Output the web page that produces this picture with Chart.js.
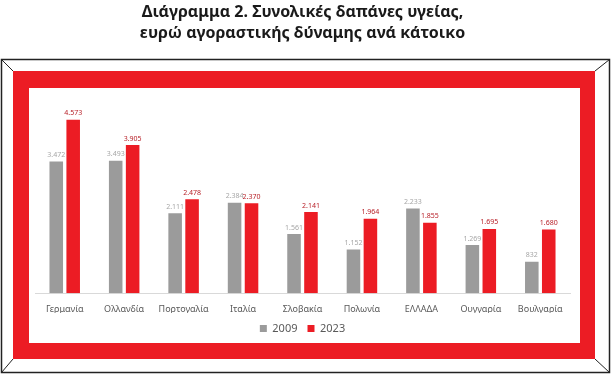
<!DOCTYPE html>
<html>
<head>
<meta charset="utf-8">
<script src="https://cdn.jsdelivr.net/npm/chart.js@4"></script>
<style>
  html, body { margin: 0; padding: 0; background: #fff; }
  #wrap { width: 612px; height: 377px; }
</style>
</head>
<body>
<div id="wrap"><canvas id="bar_chart" width="612" height="377"></canvas></div>
<script>
const countries = ['Γερμανία', 'Ολλανδία', 'Πορτογαλία', 'Ιταλία', 'Σλοβακία', 'Πολωνία', 'ΕΛΛΑΔΑ', 'Ουγγαρία', 'Βουλγαρία'];
const values2009 = [3472, 3493, 2111, 2384, 1561, 1152, 2233, 1269, 832];
const values2023 = [4573, 3905, 2478, 2370, 2141, 1964, 1855, 1695, 1680];
const seriesNames = ['2009', '2023'];

const RED = '#ec1c24';
const GREY = '#9b9b9b';

// 3472 -> "3.472" (ελληνική μορφή χιλιάδων)
const fmt = v => v >= 1000 ? Math.floor(v / 1000) + '.' + String(v % 1000).padStart(3, '0') : String(v);

// κορνίζα γύρω από το γράφημα
const framePlugin = {
    id: 'frame',
    beforeDraw(chart) {
        const c = chart.ctx;
        c.save();
        c.fillStyle = '#fff';
        c.fillRect(0, 0, chart.width, chart.height);
        c.fillStyle = RED;
        c.fillRect(13, 71, 582, 288);
        c.fillStyle = '#fff';
        c.fillRect(29, 88, 551, 255);
        c.strokeStyle = '#222';
        c.lineWidth = 1.5;
        c.strokeRect(1.5, 59.5, 608, 313);
        c.lineWidth = 1;
        c.beginPath();
        c.moveTo(1.5, 59.5); c.lineTo(13, 71);
        c.moveTo(609.5, 59.5); c.lineTo(595, 71);
        c.moveTo(1.5, 372.5); c.lineTo(13, 359);
        c.moveTo(609.5, 372.5); c.lineTo(595, 359);
        c.stroke();
        c.restore();
    }
};

// τιμές πάνω από τις μπάρες
const valueLabels = {
    id: 'valueLabels',
    afterDatasetsDraw(chart) {
        const c = chart.ctx;
        c.save();
        c.font = '7px "Noto Sans", sans-serif';
        c.textAlign = 'center';
        c.textBaseline = 'bottom';
        chart.data.datasets.forEach((ds, i) => {
            const meta = chart.getDatasetMeta(i);
            c.fillStyle = i === 0 ? '#a6a6a6' : '#b8222a';
            meta.data.forEach((bar, j) => {
                c.fillText(fmt(ds.data[j]), bar.x, bar.y - 3);
            });
        });
        c.restore();
    }
};

const ctx = document.getElementById('bar_chart').getContext('2d');

new Chart(ctx, {
    type: 'bar',
    data: {
        labels: countries,
        datasets: [
            { label: seriesNames[0], data: values2009, backgroundColor: GREY },
            { label: seriesNames[1], data: values2023, backgroundColor: RED }
        ]
    },
    options: {
        responsive: false,
        animation: false,
        devicePixelRatio: 1,
        categoryPercentage: 0.57,
        barPercentage: 0.8,
        layout: {
            padding: { left: 35, right: 42, top: 0, bottom: 33 }
        },
        scales: {
            x: {
                grid: { display: false },
                border: { display: true, color: '#d9d9d9' },
                ticks: {
                    color: '#595959',
                    padding: 3,
                    font: { family: "'Noto Sans', sans-serif", size: 9 }
                },
                // λίγο πιο κοντά το υπόμνημα στις ετικέτες
                afterFit(scale) { scale.height -= 5; }
            },
            y: {
                display: false,
                min: 0,
                max: 5000
            }
        },
        plugins: {
            title: {
                display: true,
                text: ['Διάγραμμα 2. Συνολικές δαπάνες υγείας,', 'ευρώ αγοραστικής δύναμης ανά κάτοικο'],
                color: '#1a1a1a',
                font: { family: "'Noto Sans', sans-serif", size: 16, weight: 'bold', lineHeight: 1.3 },
                padding: { top: 2, bottom: 60 }
            },
            legend: {
                position: 'bottom',
                labels: {
                    color: '#595959',
                    boxWidth: 7,
                    boxHeight: 7,
                    padding: 10,
                    font: { family: "'Noto Sans', sans-serif", size: 11 }
                }
            },
            tooltip: { enabled: false }
        }
    },
    plugins: [framePlugin, valueLabels]
});
</script>
</body>
</html>
